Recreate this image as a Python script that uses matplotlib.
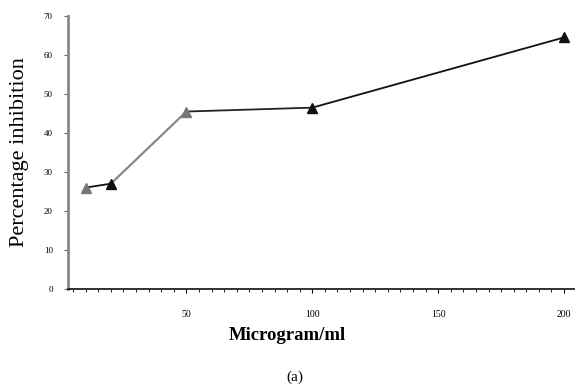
import matplotlib.pyplot as plt
from matplotlib.ticker import MultipleLocator

plt.rcParams['font.family'] = ['Liberation Serif', 'DejaVu Serif']

# concentration (microgram/ml) and percentage inhibition
conc = [10, 20, 50, 100, 200]
inhibition = [26, 27, 45.5, 46.5, 64.5]
# scanned figure: some markers/segments print grey, others black
marker_cols = ['#777777', '#111111', '#777777', '#111111', '#111111']
segment_cols = ['#111111', '#888888', '#222222', '#111111']

fig = plt.figure(figsize=(5.77, 3.9), dpi=100)
ax = fig.add_axes([0.118, 0.259, 0.877, 0.70])

for i in range(len(conc) - 1):
    ax.plot(conc[i:i+2], inhibition[i:i+2], color=segment_cols[i], lw=1.6 if i == 1 else 1.3, zorder=2)
for x, y, c in zip(conc, inhibition, marker_cols):
    ax.plot(x, y, marker='^', ms=7, color=c, zorder=3)

ax.set_xlim(3, 204)
ax.set_ylim(0, 70)
ax.set_xticks([50, 100, 150, 200])
ax.xaxis.set_minor_locator(MultipleLocator(5))
ax.set_yticks(range(0, 71, 10))

ax.spines['top'].set_visible(False)
ax.spines['right'].set_visible(False)
ax.spines['left'].set_color('#888888')
ax.spines['left'].set_linewidth(2)
ax.spines['bottom'].set_color('#222222')
ax.spines['bottom'].set_linewidth(1.3)

ax.tick_params(axis='y', direction='out', length=3, labelsize=6.5, color='#666666', pad=8)
ax.tick_params(axis='x', which='major', direction='out', length=3, labelsize=7, pad=12)
ax.tick_params(axis='x', which='minor', direction='out', length=2)

ax.set_ylabel('Percentage inhibition', fontsize=16)
ax.yaxis.set_label_coords(-0.078, 0.5)
ax.set_xlabel('Microgram/ml', fontsize=13.5, fontweight='bold')
ax.xaxis.set_label_coords(0.434, -0.14)
fig.text(0.511, 0.033, '(a)', fontsize=11, ha='center', va='center')

fig.savefig('out.png', dpi=100)
